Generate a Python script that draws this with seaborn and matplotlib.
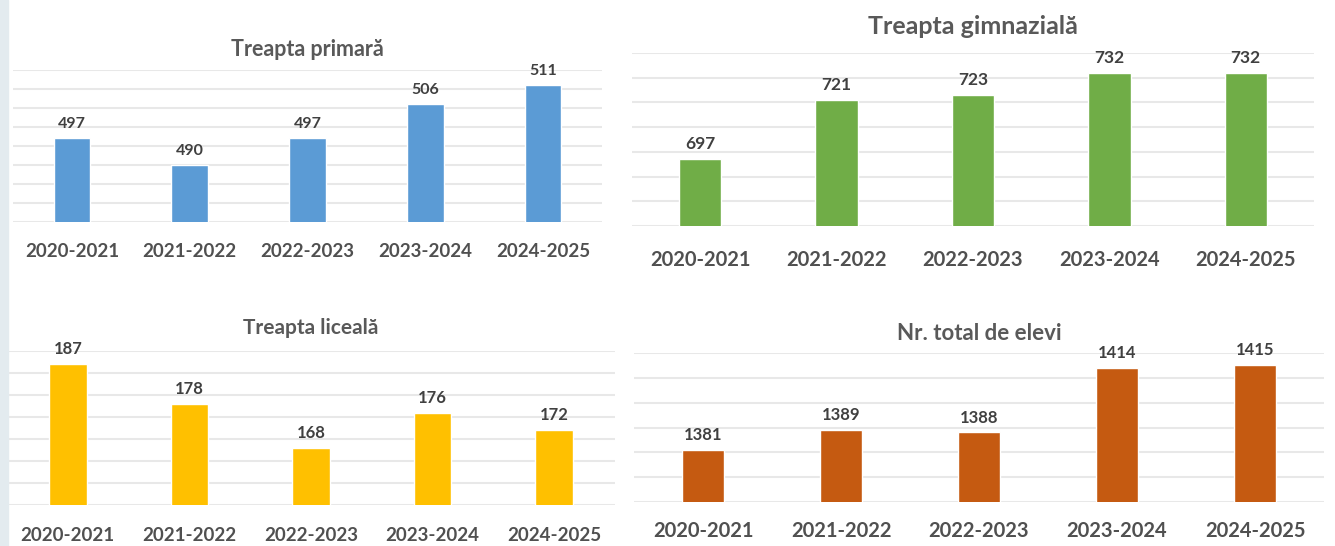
import numpy as np
import pandas as pd
import matplotlib.pyplot as plt
import seaborn as sns

# Data
years = ['2020-2021', '2021-2022', '2022-2023', '2023-2024', '2024-2025']
primar = [497, 490, 497, 506, 511]
gimnazial = [697, 721, 723, 732, 732]
liceal = [187, 178, 168, 176, 172]
total = [1381, 1389, 1388, 1414, 1415]

titles = ['Treapta primară', 'Treapta gimnazială', 'Treapta liceală', 'Nr. total de elevi']
colors = ['#5B9BD5', '#70AD47', '#FFC000', '#C55A11']

sns.set_theme(style='white')
plt.rcParams['font.family'] = ['Lato', 'DejaVu Sans']

W, H = 1335, 546
fig = plt.figure(figsize=(W / 100, H / 100), dpi=100)
fig.patch.set_facecolor('white')

# light strip on the left edge
fig.patches.append(plt.Rectangle((0, 0), 8 / W, 1, transform=fig.transFigure,
                                 color='#e3ebef', zorder=0))

# (left, top, right, bottom) in pixels, ylim, step, title size, tick size, value size, title pad, tick pad
panels = [
    (primar,    (13, 70, 602, 222),   (475, 515), 5,  15.5, 13.5, 11.5, 10, 15),
    (gimnazial, (632, 53, 1314, 226), (670, 740), 10, 18,   14.5, 12.5, 14, 17),
    (liceal,    (7, 351, 615, 505),   (155, 190), 5,  15,   13.5, 12,   12, 16),
    (total,     (634, 353, 1324, 502), (1360, 1420), 10, 16, 14.5, 12,  9,  14),
]

text_col = '#505050'

for i, (vals, box, ylim, step, tsize, xsize, vsize, tpad, xpad) in enumerate(panels):
    l, t, r, b = box
    ax = fig.add_axes([l / W, (H - b) / H, (r - l) / W, (b - t) / H])
    df = pd.DataFrame({'year': years, 'value': vals})
    sns.barplot(data=df, x='year', y='value', color=colors[i], width=0.31,
                saturation=1, ax=ax, zorder=3)
    ax.set_ylim(*ylim)
    ax.set_yticks(np.arange(ylim[0], ylim[1] + step / 2, step))
    ax.yaxis.grid(True, color='#e8e8e8', linewidth=1.5, zorder=0)
    ax.set_axisbelow(True)
    ax.tick_params(axis='y', left=False, labelleft=False)
    ax.tick_params(axis='x', length=0, pad=xpad, labelsize=xsize, labelcolor=text_col)
    for lab in ax.get_xticklabels():
        lab.set_fontweight('bold')
    for s in ax.spines.values():
        s.set_visible(False)
    ax.set_xlabel('')
    ax.set_ylabel('')
    ax.set_title(titles[i], fontsize=tsize, fontweight='bold', color='#595959', pad=tpad)
    ax.bar_label(ax.containers[0], fontsize=vsize, fontweight='bold', color='#404040', padding=5)
    ax.set_xlim(-0.5, 4.5)

fig.savefig('out.png', dpi=100)
